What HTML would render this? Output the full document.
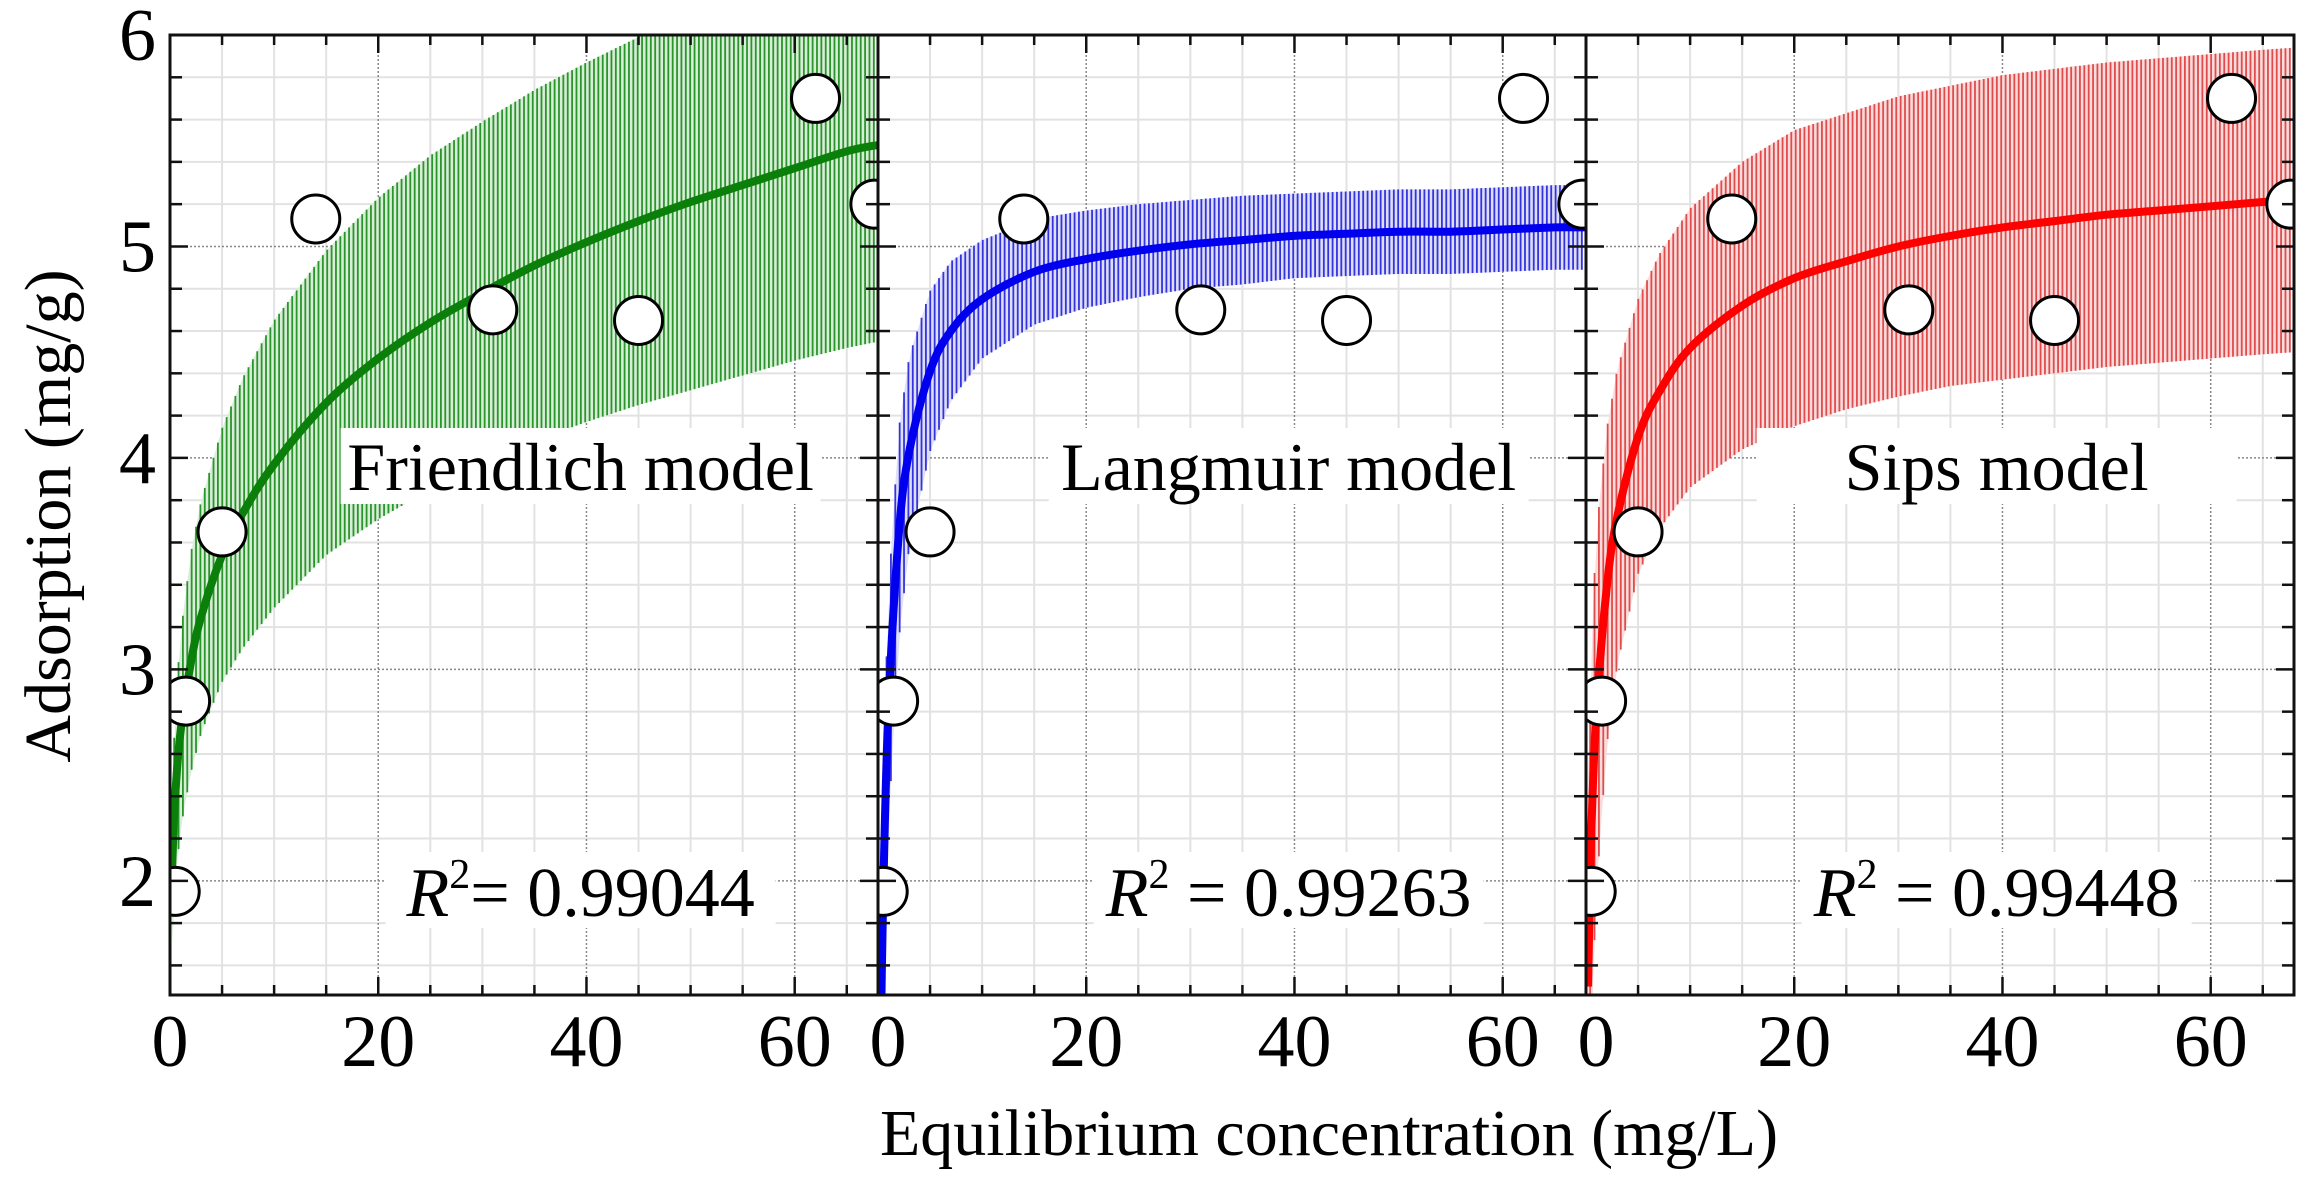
<!DOCTYPE html>
<html><head><meta charset="utf-8">
<style>
html,body{margin:0;padding:0;background:#fff;}
svg{display:block;font-family:"Liberation Serif",serif;}
</style></head>
<body>
<svg id="chart" width="2317" height="1192" viewBox="0 0 2317 1192" xmlns="http://www.w3.org/2000/svg">
<text x="0" y="0" transform="translate(70,516) rotate(-90)" text-anchor="middle" font-size="66">Adsorption (mg/g)</text>
<text x="1329" y="1155" text-anchor="middle" font-size="66">Equilibrium concentration (mg/L)</text>
</svg>
<script>
const expX = [0.5, 1.5, 5, 14, 31, 45, 62, 67.7];
const expY = [1.95, 2.85, 3.65, 5.13, 4.7, 4.65, 5.7, 5.2];
const curveX = [0.2,0.5,1,2,3,5,7,10,15,20,25,30,35,40,45,50,55,60,65,68];
const freundY = [2.06,2.40,2.70,3.03,3.25,3.54,3.74,3.97,4.26,4.47,4.64,4.78,4.91,5.02,5.12,5.21,5.29,5.37,5.45,5.48];
const freundErr = [0.35,0.41,0.46,0.52,0.55,0.6,0.64,0.68,0.72,0.76,0.79,0.81,0.83,0.85,0.87,0.89,0.9,0.91,0.93,0.93];
const langY = [1.00,1.93,2.81,3.64,4.03,4.41,4.60,4.75,4.88,4.94,4.98,5.01,5.03,5.05,5.06,5.07,5.07,5.08,5.09,5.09];
const langErr = [0.6,0.6,0.55,0.5,0.45,0.38,0.33,0.28,0.25,0.23,0.22,0.21,0.21,0.2,0.2,0.2,0.2,0.2,0.2,0.2];
const sipsY = [1.50,2.21,2.80,3.39,3.72,4.10,4.31,4.52,4.72,4.85,4.93,5.00,5.05,5.09,5.12,5.15,5.17,5.19,5.21,5.22];
const sipsErr = [1.0,0.9,0.85,0.75,0.7,0.65,0.65,0.66,0.68,0.7,0.7,0.71,0.71,0.72,0.72,0.72,0.72,0.72,0.72,0.72];
const modelNames = ["Friendlich model","Langmuir model","Sips model"];
const r2Values = ["0.99044","0.99263","0.99448"];
const xTicks = [0,20,40,60];
const yTicks = [2,3,4,5,6];

const NS="http://www.w3.org/2000/svg";
const svg=document.getElementById('chart');
const PW=708, TOP=35, BOT=995, XMIN=0, XMAX=68, YMIN=1.46, YMAX=6;
const lefts=[170,878,1586];
const colors=[{line:"#0a800a",hatch:"#2a952a",fill:"#d9eed9"},{line:"#0000ee",hatch:"#3434de",fill:"#dedef8"},{line:"#ff0000",hatch:"#e04c4c",fill:"#fadcdc"}];
const series=[[freundY,freundErr],[langY,langErr],[sipsY,sipsErr]];
function mk(t,a,p){const e=document.createElementNS(NS,t);for(const k in a)e.setAttribute(k,a[k]);(p||svg).appendChild(e);return e;}
function yS(v){return BOT-(v-YMIN)/(YMAX-YMIN)*(BOT-TOP);}
function interp(xs,ys,x){if(x<=xs[0])return ys[0];for(let i=1;i<xs.length;i++){if(x<=xs[i]){const t=(x-xs[i-1])/(xs[i]-xs[i-1]);return ys[i-1]+t*(ys[i]-ys[i-1]);}}return ys[ys.length-1];}
function smoothPath(pts){let d='M'+pts[0][0].toFixed(1)+','+pts[0][1].toFixed(1);
  for(let i=0;i<pts.length-1;i++){const p0=pts[Math.max(i-1,0)],p1=pts[i],p2=pts[i+1],p3=pts[Math.min(i+2,pts.length-1)];
    const c1=[p1[0]+(p2[0]-p0[0])/6,p1[1]+(p2[1]-p0[1])/6],c2=[p2[0]-(p3[0]-p1[0])/6,p2[1]-(p3[1]-p1[1])/6];
    d+=' C'+c1[0].toFixed(1)+','+c1[1].toFixed(1)+' '+c2[0].toFixed(1)+','+c2[1].toFixed(1)+' '+p2[0].toFixed(1)+','+p2[1].toFixed(1);}
  return d;}

const defs=mk('defs',{});
lefts.forEach((L,p)=>{
  const xS=v=>L+(v-XMIN)/(XMAX-XMIN)*PW;
  const cp=mk('clipPath',{id:'clip'+p},defs);
  mk('rect',{x:L,y:TOP,width:PW,height:BOT-TOP},cp);
  const g=mk('g',{'clip-path':'url(#clip'+p+')'});
  
  
  for(let v=5;v<XMAX;v+=5){ if(v%20===0)continue;
    mk('line',{x1:xS(v),x2:xS(v),y1:TOP,y2:BOT,stroke:'#e2e2e2','stroke-width':2},g);}
  for(let k=Math.ceil(YMIN*5);k<=30;k++){ if(k%5===0)continue; const v=k/5;
    mk('line',{x1:L,x2:L+PW,y1:yS(v),y2:yS(v),stroke:'#e2e2e2','stroke-width':2},g);}
  xTicks.forEach(v=>{ if(v===0)return;
    const l=mk('line',{x1:xS(v),x2:xS(v),y1:TOP,y2:BOT,stroke:'#888','stroke-width':1.5,'stroke-dasharray':'2 2'},g);
    
    });
  yTicks.forEach(v=>{
    const l=mk('line',{x1:L,x2:L+PW,y1:yS(v),y2:yS(v),stroke:'#888','stroke-width':1.5,'stroke-dasharray':'2 2'},g);
    
    });
  const [ys,es]=series[p]; const c=colors[p];
  let up=[],lo=[];
  for(let x=curveX[0];x<=XMAX;x+=0.5){const y=interp(curveX,ys,x),e=interp(curveX,es,x);up.push([xS(x),yS(y+e)]);lo.push([xS(x),yS(y-e)]);}
  const poly=up.concat(lo.reverse()).map(q=>q.join(',')).join(' ');
  const band=mk('polygon',{points:poly,fill:c.fill},g);
  
  
  const hg=mk('g',{stroke:c.hatch,'stroke-width':1.8},g);
  
  
  for(let x=curveX[0]+0.2;x<=XMAX;x+=0.42){const y=interp(curveX,ys,x),e=interp(curveX,es,x);
    mk('line',{x1:xS(x),x2:xS(x),y1:yS(y+e),y2:yS(y-e)},hg);}
  const pts=curveX.map((x,i)=>[xS(x),yS(ys[i])]);
  const path=mk('path',{d:smoothPath(pts),fill:'none',stroke:c.line,'stroke-width':8,'stroke-linejoin':'round'},g);
  
  
  const mx=L+PW*0.58;
  mk('rect',{x:mx-240,y:428,width:480,height:76,fill:'#fff'},g);
  mk('rect',{x:mx-195,y:852,width:390,height:76,fill:'#fff'},g);
  expX.forEach((x,i)=>{
    const ci=mk('circle',{cx:xS(x),cy:yS(expY[i]),r:24,fill:'#fff',stroke:'#000','stroke-width':3},g);
    
    
  });
  const mt=mk('text',{x:mx,y:490,'text-anchor':'middle','font-size':68});
  mt.textContent=modelNames[p];
  
  
  const rt=mk('text',{x:mx,y:916,'text-anchor':'middle','font-size':70});
  
  
  const t1=mk('tspan',{'font-style':'italic'},rt);t1.textContent='R';
  const t2=mk('tspan',{dy:-28,'font-size':42},rt);t2.textContent='2';
  const t3=mk('tspan',{dy:28},rt);t3.textContent=(p===0?'= ':' = ')+r2Values[p];
  const fr=mk('rect',{x:L,y:TOP,width:PW,height:BOT-TOP,fill:'none',stroke:'#111','stroke-width':3});
  
  
  for(let v=5;v<XMAX;v+=5){const len=v%20===0?18:10;
    mk('line',{x1:xS(v),x2:xS(v),y1:BOT,y2:BOT-len,stroke:'#111','stroke-width':2.5});
    mk('line',{x1:xS(v),x2:xS(v),y1:TOP,y2:TOP+len,stroke:'#111','stroke-width':2.5});}
  for(let k=Math.ceil(YMIN*5);k<30;k++){const v=k/5;const len=k%5===0?18:12;
    mk('line',{x1:L,x2:L+len,y1:yS(v),y2:yS(v),stroke:'#111','stroke-width':2.5});
    mk('line',{x1:L+PW,x2:L+PW-len,y1:yS(v),y2:yS(v),stroke:'#111','stroke-width':2.5});}
  xTicks.forEach(v=>{
    const t=mk('text',{x:xS(v)+(v===0&&p>0?10:0),y:1066,'text-anchor':'middle','font-size':74});
    t.textContent=v;
    
    
  });
});
yTicks.forEach(v=>{
  const t=mk('text',{x:156,y:yS(v)+25,'text-anchor':'end','font-size':74});
  t.textContent=v;
  
  
});
</script>
</body></html>
